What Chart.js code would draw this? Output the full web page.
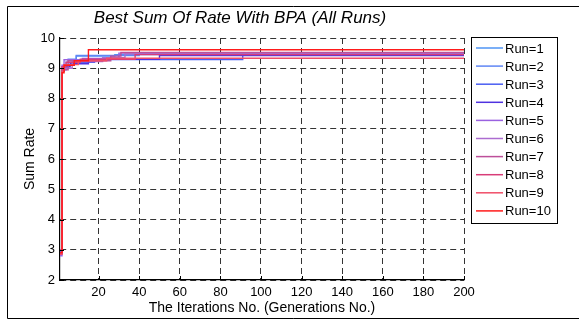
<!DOCTYPE html>
<html>
<head>
<meta charset="utf-8">
<script src="https://cdn.jsdelivr.net/npm/chart.js@4.4.1/dist/chart.umd.min.js"></script>
<style>
  html, body { margin: 0; padding: 0; background: #fff; }
  #wrap { width: 579px; height: 320px; position: relative; }
</style>
</head>
<body>
<div id="wrap"><canvas id="chart"></canvas></div>
<script>
// best-so-far sum rate per run: [iteration, value] at each improvement
const run1  = [[1, 2.9], [2, 8.95], [4, 9.2], [9, 9.4], [28, 9.45], [200, 9.45]];
const run2  = [[1, 2.85], [2, 9.0], [5, 9.3], [9, 9.42], [40, 9.48], [200, 9.48]];
const run3  = [[1, 2.95], [2, 8.9], [3, 9.1], [8, 9.2], [18, 9.29], [91, 9.44], [200, 9.44]];
const run4  = [[1, 2.9], [2, 9.05], [6, 9.15], [15, 9.3], [50, 9.42], [200, 9.42]];
const run5  = [[1, 2.8], [2, 9.1], [3, 9.28], [12, 9.32], [30, 9.5], [200, 9.5]];
const run6  = [[1, 2.9], [2, 9.0], [7, 9.22], [22, 9.35], [33, 9.47], [200, 9.47]];
const run7  = [[1, 3.0], [2, 8.95], [5, 9.25], [26, 9.4], [31, 9.52], [200, 9.52]];
const run8  = [[1, 2.9], [2, 9.05], [4, 9.2], [11, 9.3], [38, 9.45], [200, 9.45]];
const run9  = [[1, 2.85], [2, 8.9], [3, 9.12], [10, 9.25], [24, 9.33], [200, 9.33]];
const run10 = [[1, 2.9], [2, 8.85], [3, 9.1], [8, 9.25], [15, 9.61], [200, 9.61]];

const runs = [run1, run2, run3, run4, run5, run6, run7, run8, run9, run10];
const runLabels = ['Run=1', 'Run=2', 'Run=3', 'Run=4', 'Run=5', 'Run=6', 'Run=7', 'Run=8', 'Run=9', 'Run=10'];
const runColors = ['#4f94f5', '#5f86f5', '#4a5ef2', '#4f32e0', '#9a62e0', '#ac6cd0', '#bd4f9a', '#d83c78', '#f04e68', '#ff1a1a'];
const xTicks = [20, 40, 60, 80, 100, 120, 140, 160, 180, 200];

const FONT = "'Liberation Sans', Arial, sans-serif";

// frame, title, inward ticks and legend box
const decor = {
    id: 'decor',
    afterDraw(chart) {
        const ctx = chart.ctx;
        const area = chart.chartArea;
        const xs = chart.scales.x, ys = chart.scales.y;
        ctx.save();
        ctx.strokeStyle = '#000';
        ctx.lineWidth = 1;

        // outer frame
        ctx.beginPath();
        ctx.moveTo(579, 6.5); ctx.lineTo(7.5, 6.5); ctx.lineTo(7.5, 318.5); ctx.lineTo(579, 318.5);
        ctx.stroke();

        // inward tick marks
        ctx.beginPath();
        xTicks.forEach(v => {
            const px = Math.round(xs.getPixelForValue(v)) + 0.5;
            ctx.moveTo(px, area.bottom); ctx.lineTo(px, area.bottom - 4);
        });
        ys.ticks.forEach(t => {
            const py = Math.round(ys.getPixelForValue(t.value)) + 0.5;
            ctx.moveTo(area.left, py); ctx.lineTo(area.left + 4, py);
        });
        ctx.stroke();

        // title
        ctx.fillStyle = '#000';
        ctx.font = 'italic 17px ' + FONT;
        ctx.textAlign = 'center';
        ctx.textBaseline = 'middle';
        ctx.fillText('Best Sum Of Rate With BPA (All Runs)', 240, 18);

        // legend
        const lx = 471.5, ly = 37.5, lw = 86, lh = 186;
        ctx.fillStyle = '#fff';
        ctx.fillRect(lx, ly, lw, lh);
        ctx.strokeRect(lx, ly, lw, lh);
        ctx.font = '13px ' + FONT;
        ctx.textAlign = 'left';
        chart.data.datasets.forEach((ds, i) => {
            const y = 48 + i * 18.1;
            ctx.strokeStyle = ds.borderColor;
            ctx.lineWidth = 1.5;
            ctx.beginPath();
            ctx.moveTo(476, y); ctx.lineTo(503, y);
            ctx.stroke();
            ctx.fillStyle = '#000';
            ctx.fillText(ds.label, 505, y + 1);
        });
        ctx.restore();
    }
};

new Chart(document.getElementById('chart'), {
    type: 'line',
    data: {
        datasets: runs.map((r, i) => ({
            label: runLabels[i],
            data: r.map(p => ({ x: p[0], y: p[1] })),
            borderColor: runColors[i],
            backgroundColor: runColors[i],
            borderWidth: 1.4,
            pointRadius: 0,
            stepped: 'before',
            order: runs.length - i
        }))
    },
    options: {
        responsive: true,
        maintainAspectRatio: false,
        animation: false,
        layout: { padding: { top: 38, right: 115, left: 0, bottom: 0 } },
        plugins: { legend: { display: false }, title: { display: false }, tooltip: { enabled: false } },
        scales: {
            x: {
                type: 'linear', min: 1, max: 200,
                afterBuildTicks: s => { s.ticks = xTicks.map(v => ({ value: v })); },
                afterFit: s => { s.height = 40; },
                grid: { color: '#333', drawTicks: false, lineWidth: 1 },
                border: { display: true, color: '#000', width: 1.2, dash: [6, 4] },
                ticks: { color: '#000', font: { family: FONT, size: 13 }, padding: 5, maxRotation: 0 },
                title: { display: true, text: 'The Iterations No. (Generations No.)', color: '#000',
                         font: { family: FONT, size: 14 }, padding: { top: 0, bottom: 3 } }
            },
            y: {
                min: 2, max: 10,
                ticks: { stepSize: 1, color: '#000', font: { family: FONT, size: 13 }, padding: 5 },
                afterFit: s => { s.width = 60; },
                grid: { color: '#333', drawTicks: false, lineWidth: 1 },
                border: { display: true, color: '#000', width: 1.2, dash: [6, 4] },
                title: { display: true, text: 'Sum Rate', color: '#000',
                         font: { family: FONT, size: 14 }, padding: { top: 22, bottom: 0 } }
            }
        }
    },
    plugins: [decor]
});
</script>
</body>
</html>
